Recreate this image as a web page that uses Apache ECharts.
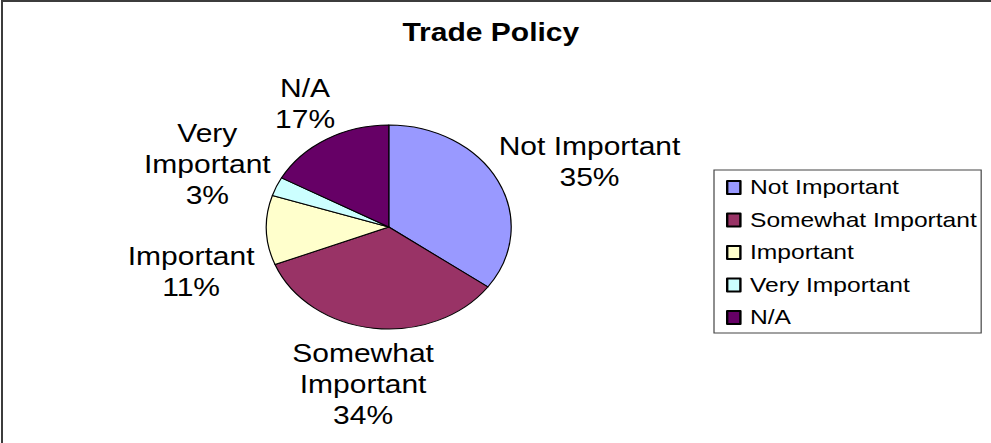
<!DOCTYPE html>
<html>
<head>
<meta charset="utf-8">
<title>Trade Policy</title>
<script src="https://cdn.jsdelivr.net/npm/echarts@6/dist/echarts.min.js"></script>
<style>
  html, body { margin: 0; padding: 0; background: #fff; }
  #frame { position: absolute; left: 0; top: 0; width: 991px; height: 443px; overflow: hidden; }
  /* the chart is laid out at 826px wide and stretched to the full 991px frame */
  #chart { position: absolute; left: 0; top: 0; width: 826px; height: 443px;
           transform: scaleX(1.2); transform-origin: 0 0; }
  #edge { position: absolute; left: 1px; top: 0; right: 0; bottom: 0;
          border-top: 2px solid #3c3c3c; border-left: 2px solid #3c3c3c; pointer-events: none; }
</style>
</head>
<body>
<div id="frame">
  <div id="chart"></div>
  <div id="edge"></div>
</div>
<script>
// Survey answers on trade policy (share of respondents, %)
const categories = ['Not Important', 'Somewhat Important', 'Important', 'Very Important', 'N/A'];
const labelNames = ['Not Important', 'Somewhat\nImportant', 'Important', 'Very\nImportant', 'N/A'];
const shares = [35, 34, 11, 3, 17];
const colors = ['#9999FF', '#993366', '#FFFFCC', '#CCFFFF', '#660066'];

const FONT_FAMILY = '"Liberation Sans", Arial, sans-serif';
const LABEL_SIZE = 25;
const LINE_H = 31;
const CX = 324, CY = 227, R = 102;
const GAP = 2, PAD = 8, LABEL_SPACING = 30;

// Place each label just outside its slice, on the slice's bisector,
// and push labels down where their boxes would collide.
const measure = document.createElement('canvas').getContext('2d');
measure.font = LABEL_SIZE + 'px ' + FONT_FAMILY;
const total = shares.reduce((a, b) => a + b, 0);
let acc = 0;
const boxes = shares.map((v, i) => {
  const mid = (acc + v / 2) / total * 2 * Math.PI;
  acc += v;
  const dx = Math.sin(mid), dy = -Math.cos(mid);
  const lines = (labelNames[i] + '\n' + Math.round(v / total * 100) + '%').split('\n');
  const w = Math.max(...lines.map(s => measure.measureText(s).width));
  const h = lines.length * LINE_H;
  const ax = CX + dx * (R + GAP), ay = CY + dy * (R + GAP);
  return { i, x: ax + dx * (w / 2 + PAD), y: ay + dy * (h / 2 + PAD), w, h, side: dx < 0 ? -1 : 1 };
});
[-1, 1].forEach(side => {
  const list = boxes.filter(b => b.side === side).sort((a, b) => a.y - b.y);
  for (let k = 1; k < list.length; k++) {
    const cur = list[k];
    for (let j = 0; j < k; j++) {
      const prev = list[j];
      const hOverlap = Math.abs(cur.x - prev.x) < (cur.w + prev.w) / 2;
      const minY = prev.y + prev.h / 2 + cur.h / 2 + LABEL_SPACING;
      if (hOverlap && cur.y < minY) cur.y = minY;
    }
  }
});

const chart = echarts.init(document.getElementById('chart'), null, { renderer: 'svg', width: 826, height: 443 });
chart.setOption({
  animation: false,
  backgroundColor: 'transparent',
  title: {
    text: 'Trade Policy',
    left: 409,
    top: 20,
    textAlign: 'center',
    padding: 0,
    textStyle: { fontSize: 25, fontWeight: 'bold', color: '#000', fontFamily: FONT_FAMILY }
  },
  legend: {
    orient: 'vertical',
    left: 595,
    top: 170,
    padding: [7, 3.5, 5, 10],
    itemGap: 11.5,
    itemWidth: 11,
    itemHeight: 13,
    icon: 'rect',
    borderColor: '#444',
    borderWidth: 1,
    selectedMode: false,
    data: categories,
    textStyle: { fontSize: 20.5, color: '#000', fontFamily: FONT_FAMILY, padding: [0, 0, 0, 3] }
  },
  series: [{
    type: 'pie',
    center: [CX, CY],
    radius: R,
    startAngle: 90,
    clockwise: true,
    percentPrecision: 0,
    avoidLabelOverlap: false,
    emphasis: { disabled: true },
    itemStyle: { borderColor: '#000', borderWidth: 1 },
    data: categories.map((name, i) => ({ name, value: shares[i], itemStyle: { color: colors[i] } })),
    label: {
      show: true,
      position: 'outside',
      formatter: p => labelNames[p.dataIndex] + '\n' + p.percent + '%',
      fontSize: LABEL_SIZE,
      lineHeight: LINE_H,
      color: '#000',
      fontFamily: FONT_FAMILY
    },
    labelLine: { show: false },
    labelLayout: params => {
      const b = boxes[params.dataIndex];
      return { x: b.x, y: b.y, align: 'center', verticalAlign: 'middle' };
    }
  }]
});
</script>
</body>
</html>
